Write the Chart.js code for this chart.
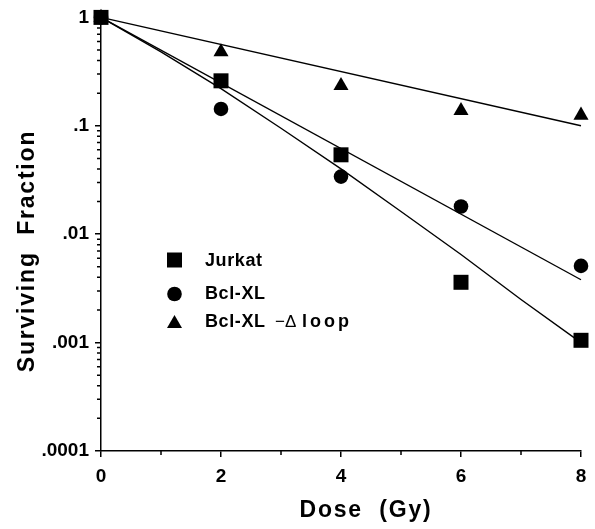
<!DOCTYPE html>
<html>
<head>
<meta charset="utf-8">
<script src="https://cdn.jsdelivr.net/npm/chart.js@4.4.1/dist/chart.umd.min.js"></script>
<style>
  body { margin: 0; background: #fff; }
  #wrap { width: 595px; height: 529px; }
</style>
</head>
<body>
<div id="wrap"><canvas id="survivalChart" width="595" height="529"></canvas></div>
<script>
// Measured points
const doses = [0, 2, 4, 6, 8];
const jurkat = [1, 0.26, 0.054, 0.0036, 0.00105];
const bclxl = [1, 0.143, 0.034, 0.018, 0.0051];
const deltaLoop = [1, 0.48, 0.235, 0.138, 0.125];

// Fitted curves
const fitDoses = [0, 1, 2, 3, 4, 5, 6, 7, 8];
const jurkatFit = [1, 0.48, 0.22, 0.095, 0.04, 0.0162, 0.0065, 0.0025, 0.001];
const lineEnds = [0, 8];
const bclxlFit = [1, 0.0038];
const deltaLoopFit = [1, 0.1];

// Axis ticks
const xTicks = [0, 2, 4, 6, 8];
const xMinorTicks = [1, 3, 5, 7];
const yTicks = [0.0001, 0.001, 0.01, 0.1, 1];
const yTickLabels = [".0001", ".001", ".01", ".1", "1"];

const FONT = '"Liberation Sans", Arial, Helvetica, sans-serif';

function pts(xs, ys) {
  return xs.map((x, i) => ({ x: x, y: ys[i] }));
}

// minor ticks, axis titles and the inset legend
const decorPlugin = {
  id: "decor",
  afterDraw(chart) {
    const ctx = chart.ctx;
    const xs = chart.scales.x;
    const ys = chart.scales.y;
    const area = chart.chartArea;
    ctx.save();
    ctx.strokeStyle = "#000";
    ctx.lineWidth = 1.5;
    ctx.beginPath();
    xMinorTicks.forEach((v) => {
      const px = xs.getPixelForValue(v);
      ctx.moveTo(px, area.bottom);
      ctx.lineTo(px, area.bottom + 4);
    });
    for (let d = 0; d < yTicks.length - 1; d++) {
      for (let m = 2; m <= 9; m++) {
        const py = ys.getPixelForValue(yTicks[d] * m);
        ctx.moveTo(area.left, py);
        ctx.lineTo(area.left - 4, py);
      }
    }
    ctx.stroke();

    // axis titles
    ctx.fillStyle = "#000";
    ctx.font = "bold 23px " + FONT;
    ctx.textAlign = "center";
    ctx.textBaseline = "middle";
    ctx.letterSpacing = "1.8px";
    ctx.fillText("Dose  (Gy)", 366, 511);
    ctx.save();
    ctx.translate(28, 251);
    ctx.rotate(-Math.PI / 2);
    ctx.fillText("Surviving  Fraction", 0, 0);
    ctx.restore();

    // legend
    const mx = 174.5;
    ctx.beginPath();
    ctx.rect(mx - 7.5, 260 - 7.5, 15, 15);
    ctx.fill();
    ctx.beginPath();
    ctx.arc(mx, 294, 7.3, 0, Math.PI * 2);
    ctx.fill();
    ctx.beginPath();
    ctx.moveTo(mx, 315);
    ctx.lineTo(mx + 7.5, 328);
    ctx.lineTo(mx - 7.5, 328);
    ctx.closePath();
    ctx.fill();

    ctx.textAlign = "left";
    ctx.font = "bold 18px " + FONT;
    ctx.letterSpacing = "0.6px";
    ctx.fillText("Jurkat", 205, 261);
    ctx.fillText("Bcl-XL", 205, 294);
    ctx.fillText("Bcl-XL", 205, 322);
    ctx.font = "17px " + FONT;
    ctx.letterSpacing = "0px";
    ctx.fillText("\u2212\u0394", 275, 322);
    ctx.font = "bold 18px " + FONT;
    ctx.letterSpacing = "3px";
    ctx.fillText("loop", 302, 322);
    ctx.restore();
  },
};

const ctx = document.getElementById("survivalChart").getContext("2d");
const survivalChart = new Chart(ctx, {
  type: "scatter",
  data: {
    datasets: [
      {
        label: "Jurkat",
        data: pts(doses, jurkat),
        pointStyle: "rect",
        pointRadius: 10.6,
        backgroundColor: "#000",
        pointBorderWidth: 0,
        clip: false,
      },
      {
        label: "Bcl-XL",
        data: pts(doses, bclxl),
        pointStyle: "circle",
        pointRadius: 7.3,
        backgroundColor: "#000",
        pointBorderWidth: 0,
        clip: false,
      },
      {
        label: "Bcl-XL -\u0394 loop",
        data: pts(doses, deltaLoop),
        pointStyle: "triangle",
        pointRadius: 8.7,
        backgroundColor: "#000",
        pointBorderWidth: 0,
        clip: false,
      },
      {
        data: pts(fitDoses, jurkatFit),
        showLine: true,
        borderColor: "#000",
        borderWidth: 1.4,
        pointRadius: 0,
        clip: false,
      },
      {
        data: pts(lineEnds, bclxlFit),
        showLine: true,
        borderColor: "#000",
        borderWidth: 1.4,
        pointRadius: 0,
        clip: false,
      },
      {
        data: pts(lineEnds, deltaLoopFit),
        showLine: true,
        borderColor: "#000",
        borderWidth: 1.4,
        pointRadius: 0,
        clip: false,
      },
    ],
  },
  options: {
    responsive: false,
    animation: false,
    layout: {
      padding: { top: 15, right: 14, left: 0, bottom: 0 },
    },
    scales: {
      x: {
        type: "linear",
        min: 0,
        max: 8,
        afterFit: function (scale) {
          scale.height = 78;
        },
        afterBuildTicks: function (scale) {
          scale.ticks = xTicks.map((v) => ({ value: v }));
        },
        border: { color: "#000", width: 1.5 },
        grid: {
          drawOnChartArea: false,
          color: "#000",
          lineWidth: 1.5,
          tickLength: 6,
        },
        ticks: {
          color: "#000",
          padding: 8,
          font: { family: FONT, size: 19, weight: "bold" },
          callback: function (value) {
            return String(value);
          },
        },
      },
      y: {
        type: "logarithmic",
        min: 0.0001,
        max: 1,
        afterFit: function (scale) {
          scale.width = 101;
        },
        afterBuildTicks: function (scale) {
          scale.ticks = yTicks.map((v) => ({ value: v }));
        },
        border: { color: "#000", width: 1.5 },
        grid: {
          drawOnChartArea: false,
          color: "#000",
          lineWidth: 1.5,
          tickLength: 6,
        },
        ticks: {
          color: "#000",
          padding: 6,
          font: { family: FONT, size: 19, weight: "bold" },
          callback: function (value) {
            const i = yTicks.findIndex((t) => Math.abs(t - value) < t * 1e-6);
            return i >= 0 ? yTickLabels[i] : "";
          },
        },
      },
    },
    plugins: {
      legend: { display: false },
      tooltip: { enabled: false },
    },
  },
  plugins: [decorPlugin],
});
</script>
</body>
</html>
